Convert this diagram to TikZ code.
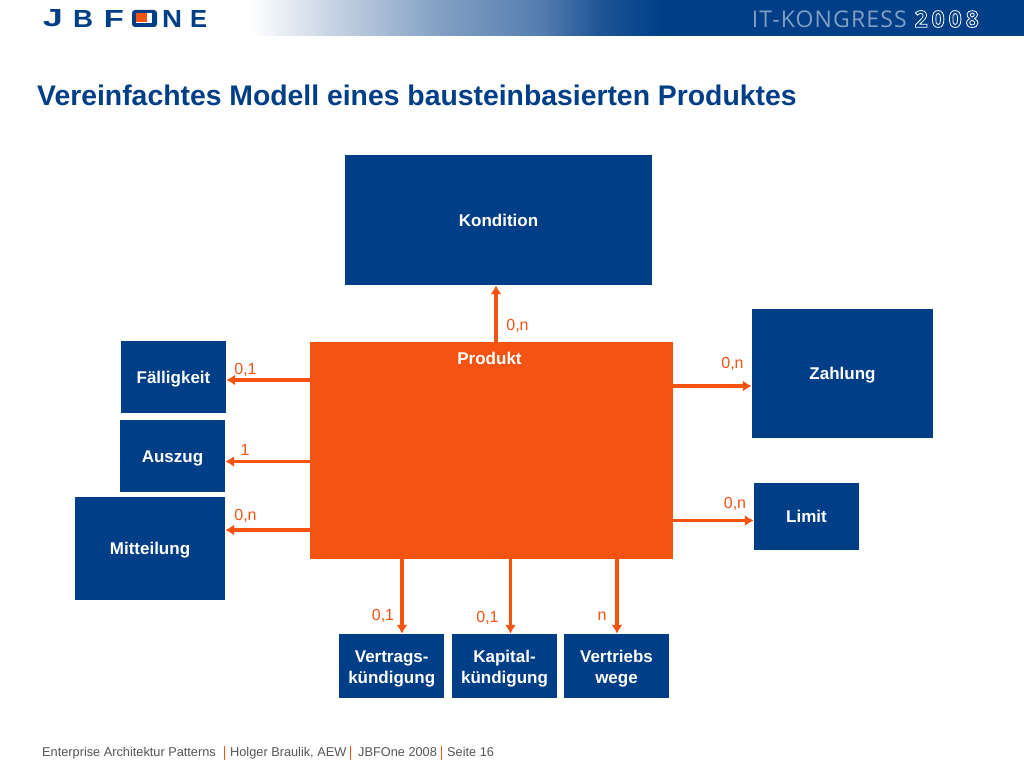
\documentclass[tikz,border=0pt]{standalone}
\usepackage{fontspec}
\usepackage{graphicx}
\setmainfont{Liberation Sans}
\newfontfamily\kongress[LetterSpace=5]{Open Sans}
\newfontfamily\kongressyear[LetterSpace=17]{Open Sans Bold}
\definecolor{jbblue}{RGB}{0,63,135}
\definecolor{jborange}{RGB}{244,83,18}
\definecolor{footgray}{RGB}{85,85,85}
\definecolor{banda}{RGB}{200,212,228}
\definecolor{bandb}{RGB}{130,160,195}
\definecolor{bandc}{RGB}{85,125,175}
\definecolor{bandd}{RGB}{30,85,150}
\pgfdeclarehorizontalshading{jbband}{100bp}{color(0bp)=(white); color(25bp)=(white); color(34.8bp)=(banda); color(48.2bp)=(bandb); color(60.4bp)=(bandc); color(67.7bp)=(bandd); color(75bp)=(jbblue); color(100bp)=(jbblue)}
\newcommand{\logoletter}[1]{\resizebox{20pt}{17pt}{\bfseries #1}}
\usetikzlibrary{arrows.meta}
\tikzset{
  x=1pt,y=-1pt,
  bluebox/.style={fill=jbblue,draw=none,inner sep=0pt,align=center,text=white,font=\fontsize{17}{21}\selectfont\bfseries},
  oneline/.style={text height=12pt,text depth=0pt},
  orangebox/.style={fill=jborange,draw=none,inner sep=0pt},
  conn/.style={draw=jborange,line width=3.2pt,-{Latex[length=9pt,width=11pt]}},
  mult/.style={text=jborange,inner sep=0pt,font=\fontsize{16}{18}\selectfont},
  logoletter/.style={inner sep=0pt,text=jbblue},
  foot/.style={inner sep=0pt,text=footgray,anchor=base west,font=\fontsize{12.75}{15}\selectfont},
  footbar/.style={draw=jborange,line width=1pt}
}
\begin{document}
\begin{tikzpicture}
\useasboundingbox (0,0) rectangle (1024,768);
\fill[white] (0,0) rectangle (1024,768);
% header band
\fill[jbblue] (659,0) rectangle (1024,36);
\shade[shading=jbband] (250,0) rectangle (660,36);
% logo
\node[logoletter] (lj) at (53,18.5) {\logoletter{J}};
\node[logoletter] (lb) at (83,18.5) {\logoletter{B}};
\node[logoletter] (lf) at (114,18.5) {\logoletter{F}};
\node[fill=jbblue,rounded corners=3pt,minimum width=25pt,minimum height=17pt,inner sep=0pt] (lo) at (144.5,18.5) {};
\node[fill=white,minimum width=16pt,minimum height=10pt,inner sep=0pt] (lohole) at (144,18) {};
\node[fill=jborange,minimum width=11pt,minimum height=9pt,inner sep=0pt] (losq) at (141.5,17.5) {};
\node[logoletter] (ln) at (172,18.5) {\logoletter{N}};
\node[logoletter] (le) at (198.5,18.5) {\resizebox{17pt}{17pt}{\bfseries E}};
% header text
\node[inner sep=0pt,anchor=east,text=jbblue!50!white,font=\fontsize{23}{25}\selectfont\kongress] (itk) at (907,19) {IT-KONGRESS};
\node[inner sep=0pt,anchor=east,text=white,font=\fontsize{23}{25}\selectfont\kongressyear] (yr) at (979,19) {\special{pdf:code q 1 Tr 0.8 w 1 1 1 RG}2008\special{pdf:code Q}};
% title
\node[inner sep=0pt,anchor=west,text=jbblue,font=\fontsize{28.35}{30}\selectfont\bfseries] (title) at (37,95) {Vereinfachtes Modell eines bausteinbasierten Produktes};
% boxes
\node[bluebox,oneline,minimum width=307pt,minimum height=130pt] (kond) at (498.5,220) {Kondition};
\node[orangebox,minimum width=363pt,minimum height=217pt] (prod) at (491.5,450.5) {};
\node[inner sep=0pt,text=white,font=\fontsize{17}{20}\selectfont\bfseries] (prodl) at (489.5,358) {Produkt};
\node[bluebox,oneline,minimum width=181pt,minimum height=129pt] (zahl) at (842.5,373.5) {Zahlung};
\node[bluebox,oneline,minimum width=105pt,minimum height=67pt] (limit) at (806.5,516.5) {Limit};
\node[bluebox,oneline,minimum width=105pt,minimum height=72pt] (fall) at (173.5,377) {Fälligkeit};
\node[bluebox,oneline,minimum width=105pt,minimum height=72pt] (ausz) at (172.5,456) {Auszug};
\node[bluebox,oneline,minimum width=150pt,minimum height=103pt] (mitt) at (150,548.5) {Mitteilung};
\node[bluebox,minimum width=105pt,minimum height=64pt] (vert) at (391.7,666) {\rule{0pt}{18pt}Vertrags-\\kündigung};
\node[bluebox,minimum width=105pt,minimum height=64pt] (kap) at (504.5,666) {\rule{0pt}{18pt}Kapital-\\kündigung};
\node[bluebox,minimum width=105pt,minimum height=64pt] (vtr) at (616.5,666) {\rule{0pt}{18pt}Vertriebs\\wege};
% connector start points on the product box
\coordinate (pk) at (496,342);
\coordinate (pz) at (673,386);
\coordinate (pl) at (673,520.5);
\coordinate (pf) at (310,380);
\coordinate (pa) at (310,461.5);
\coordinate (pm) at (310,530);
\coordinate (pv) at (402,559);
\coordinate (pc) at (510.5,559);
\coordinate (pw) at (617,559);
\draw[conn] (pk) -- (pk |- kond.south);
\draw[conn] (pz) -- (pz -| zahl.west);
\draw[conn] (pl) -- (pl -| limit.west);
\draw[conn] (pf) -- (pf -| fall.east);
\draw[conn] (pa) -- (pa -| ausz.east);
\draw[conn] (pm) -- (pm -| mitt.east);
\draw[conn] (pv) -- (pv |- vert.north);
\draw[conn] (pc) -- (pc |- kap.north);
\draw[conn] (pw) -- (pw |- vtr.north);
% multiplicities
\node[mult] (m1) at (517.5,326) {0,n};
\node[mult] (m2) at (732.5,364) {0,n};
\node[mult] (m3) at (735,504) {0,n};
\node[mult] (m4) at (245.5,370) {0,1};
\node[mult] (m5) at (245,450) {1};
\node[mult] (m6) at (245.5,516) {0,n};
\node[mult] (m7) at (383,615.5) {0,1};
\node[mult] (m8) at (487.5,617.5) {0,1};
\node[mult] (m9) at (602,616) {n};
% footer
\node[foot] (f1) at (42,756) {Enterprise Architektur Patterns};
\node[foot] (f2) at (230,756) {Holger Braulik, AEW};
\node[foot] (f3) at (358,756) {JBFOne 2008};
\node[foot] (f4) at (447,756) {Seite 16};
\draw[footbar] (224,746) -- (224,760);
\draw[footbar] (350.5,746) -- (350.5,760);
\draw[footbar] (441.5,746) -- (441.5,760);
\end{tikzpicture}
\end{document}
